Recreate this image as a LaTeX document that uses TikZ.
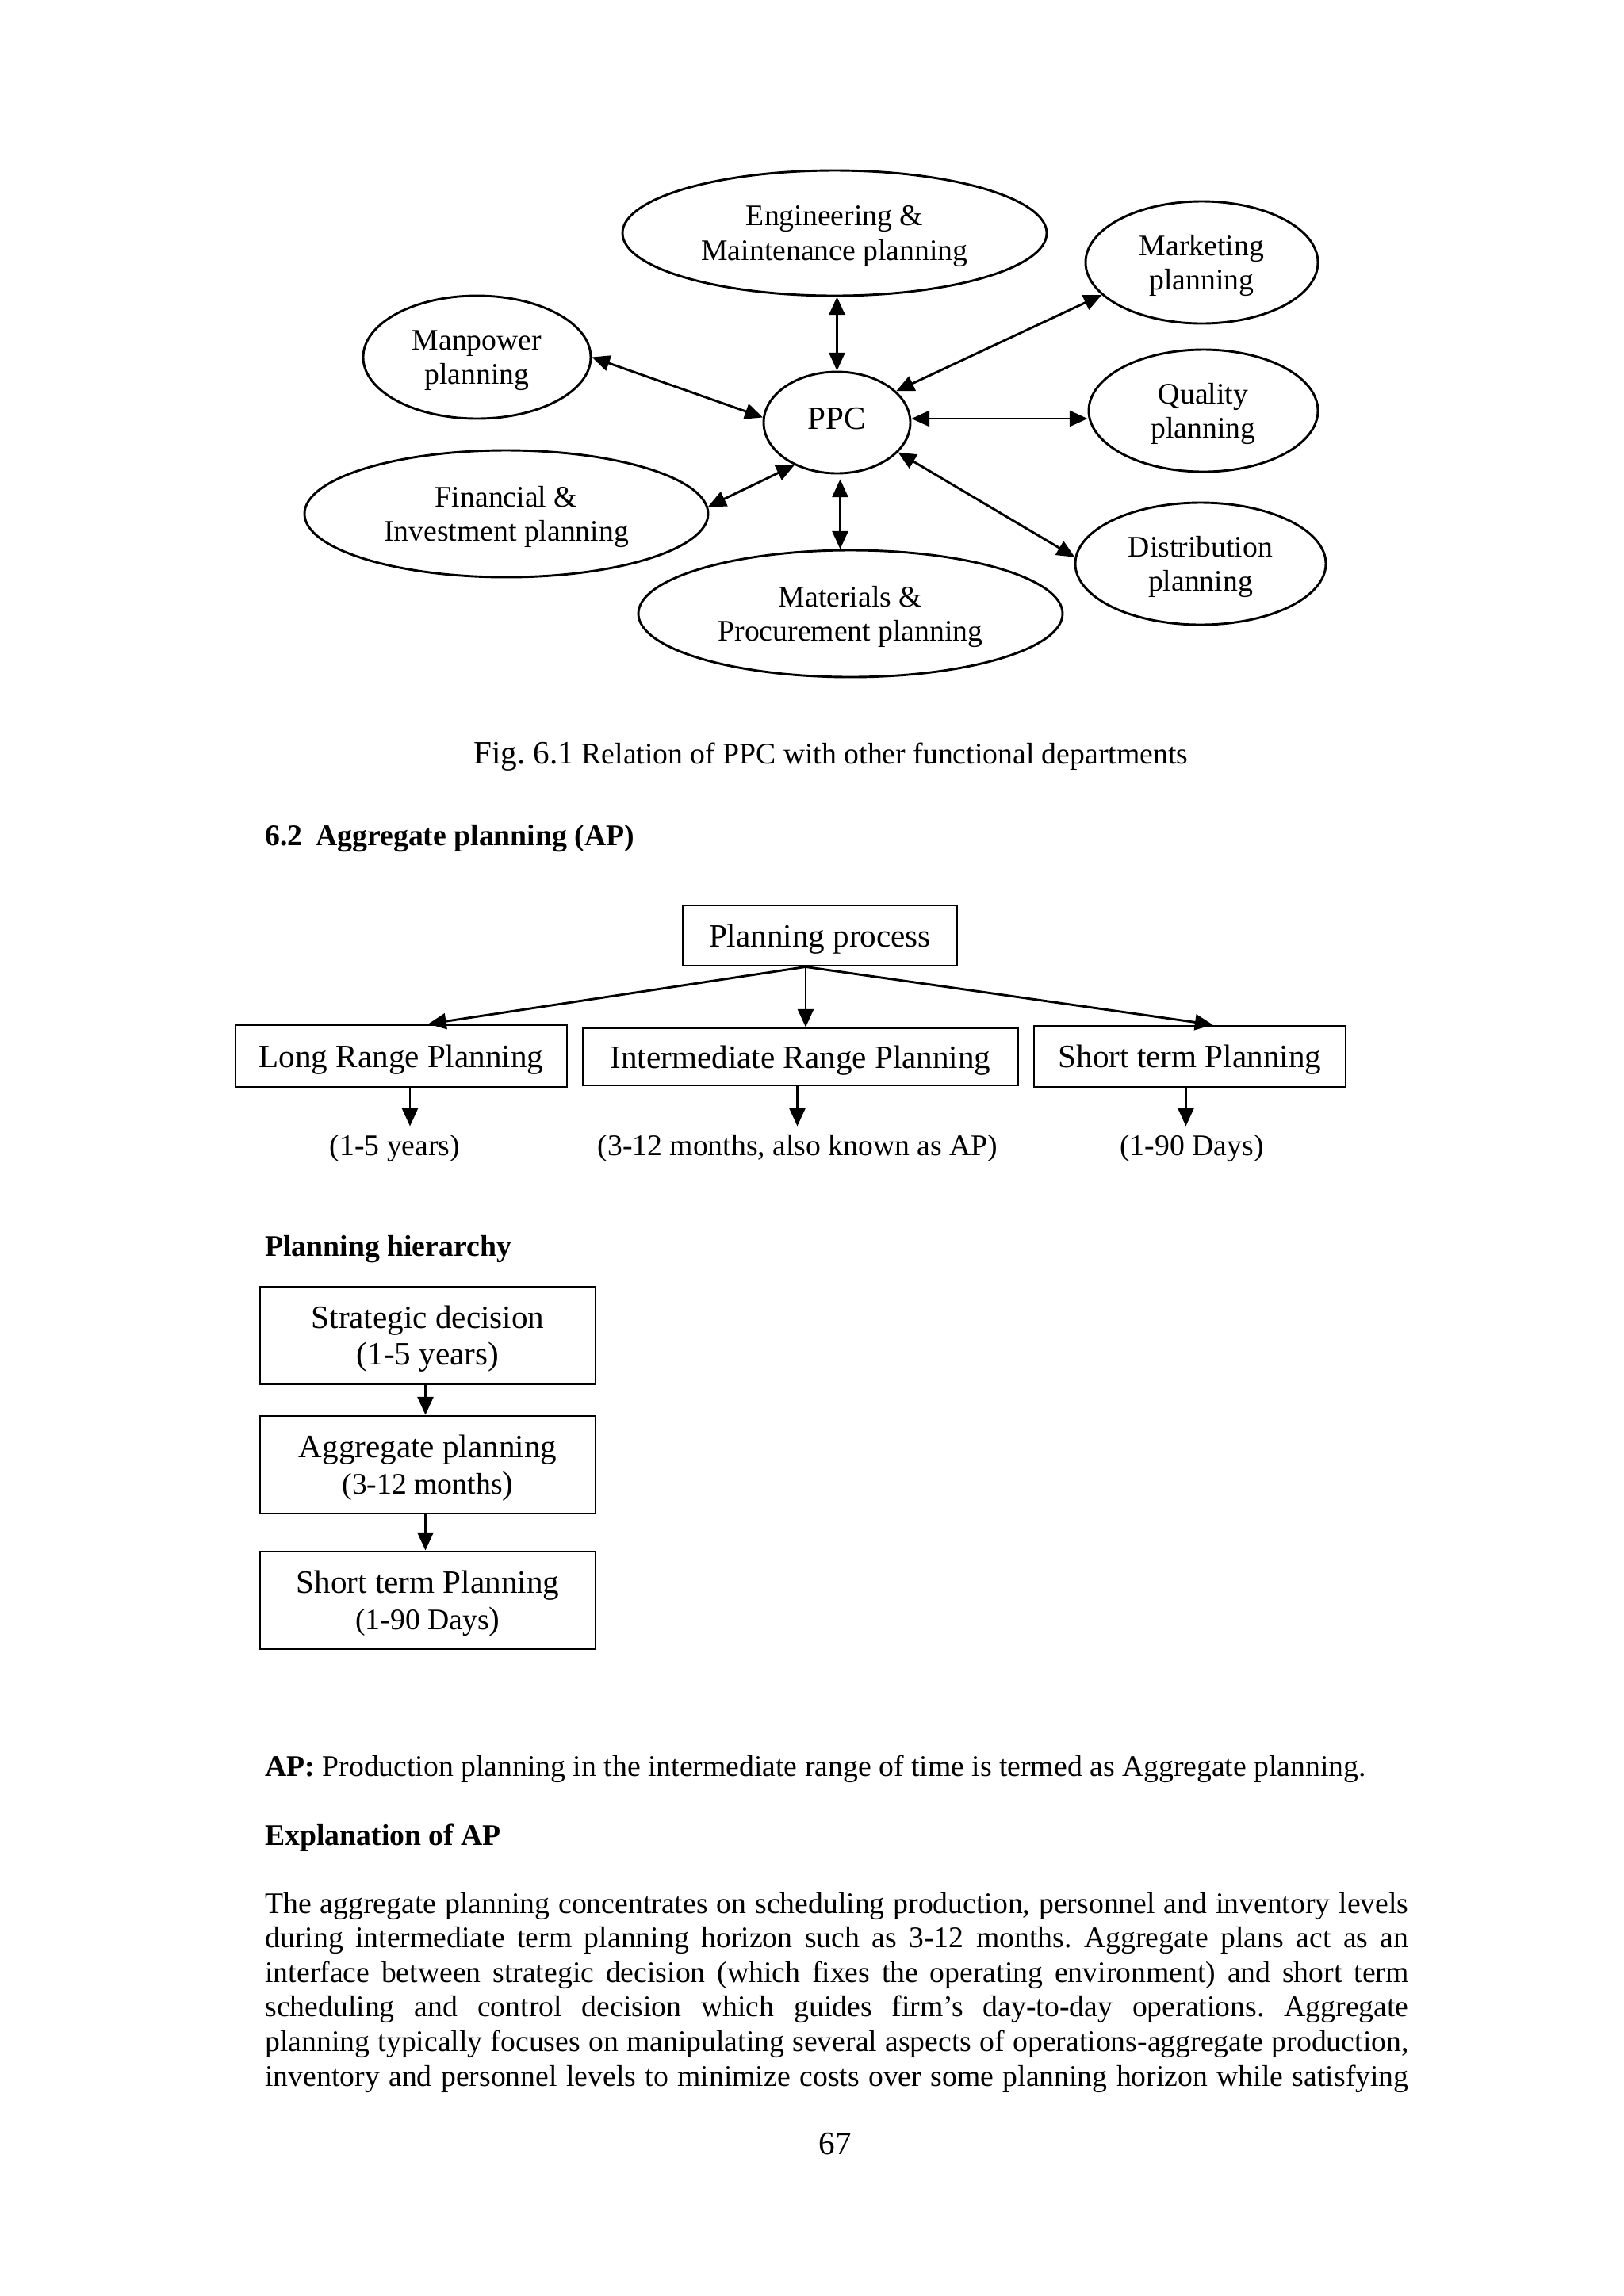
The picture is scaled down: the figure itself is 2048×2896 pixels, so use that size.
\documentclass[tikz,border=0pt]{standalone}
\usepackage{fontspec}
\setmainfont{Liberation Serif}
\usetikzlibrary{shapes.geometric,arrows.meta,calc}
\newcommand{\pxu}{0.10254mm}
\newlength\parw
\setlength\parw{147.86mm}
\newcommand{\elevenpt}{\fontsize{11}{12.65}\selectfont}
\newcommand{\twelvept}{\fontsize{12}{13.4}\selectfont}
\frenchspacing
\begin{document}
\begin{tikzpicture}[x=0.10254mm,y=-0.10254mm,
  line width=0.85pt,
  ell/.style={draw, ellipse, inner sep=0pt, align=center, text depth=0pt, font=\elevenpt},
  bx/.style={draw, rectangle, inner sep=0pt, align=center, text depth=0pt, font=\twelvept},
  arr/.style={-{Triangle[length=6.6pt,width=5.8pt]}},
  darr/.style={{Triangle[length=6.6pt,width=5.8pt]}-{Triangle[length=6.6pt,width=5.8pt]}},
  txt/.style={inner sep=0pt, anchor=base west, font=\elevenpt},
  lab/.style={inner sep=2.6pt, anchor=base, font=\elevenpt},
]
\useasboundingbox (0,0) rectangle (2048,2896);
\fill[white] (0,0) rectangle (2048,2896);

% ---------- Fig 6.1 ----------
\node[ell, minimum width={535*\pxu}, minimum height={158*\pxu}] (eng) at (1052.5,294) {Engineering \&\\Maintenance planning};
\node[ell, minimum width={293*\pxu}, minimum height={154*\pxu}] (mkt) at (1515.5,331) {Marketing\\planning};
\node[ell, minimum width={287*\pxu}, minimum height={155*\pxu}] (man) at (601.5,450.5) {Manpower\\planning};
\node[ell, minimum width={185*\pxu}, minimum height={128*\pxu}, text depth=2.9pt, font=\twelvept] (ppc) at (1055.5,533) {PPC};
\node[ell, minimum width={289*\pxu}, minimum height={154*\pxu}] (qual) at (1517.5,518) {Quality\\planning};
\node[ell, minimum width={509*\pxu}, minimum height={160*\pxu}] (fin) at (638.5,648) {Financial \&\\Investment planning};
\node[ell, minimum width={316*\pxu}, minimum height={154*\pxu}] (dist) at (1514,711) {Distribution\\planning};
\node[ell, minimum width={535*\pxu}, minimum height={160*\pxu}] (mat) at (1072.5,774) {Materials \&\\Procurement planning};

\coordinate (ppcS) at ($(ppc.south)+(4,6)$);
\coordinate (ppcE) at ($(ppc.east)+(0,-5)$);
\draw[darr] (ppc.north) -- (ppc.north |- eng.south);
\draw[darr] (ppcS) -- (ppcS |- mat.north);
\draw[darr] (ppcE) -- (ppcE -| qual.west);
\draw[darr] (man.east) -- (ppc.176);
\draw[darr] (mkt.198) -- (ppc.28);
\draw[darr] (dist.177) -- (ppc.-26);
\draw[darr] (fin.2) -- (ppc.225);

\node[txt] (cap) at (596,963) {{\twelvept Fig. 6.1} Relation of PPC with other functional departments};

% ---------- 6.2 ----------
\node[txt] (h62) at (333,1066) {\textbf{6.2\hspace{0.2em} Aggregate planning (AP)}};

\node[bx, minimum width={346*\pxu}, minimum height={76*\pxu}] (pp) at (1034,1180) {Planning process};
\node[bx, minimum width={418*\pxu}, minimum height={78*\pxu}] (lr) at (506,1332) {Long Range Planning};
\node[bx, minimum width={549*\pxu}, minimum height={72*\pxu}] (ir) at (1009.5,1333) {Intermediate Range Planning};
\node[bx, minimum width={393*\pxu}, minimum height={77*\pxu}] (sr) at (1500.5,1332.5) {Short term Planning};

\coordinate (ppo) at ($(pp.south)+(-18,0)$);
\coordinate (lrT) at ($(lr.north)+(34,0)$);
\coordinate (srT) at ($(sr.north)+(29,0)$);
\draw[arr] (ppo) -- (lrT);
\draw[arr] (ppo) -- (ppo |- ir.north);
\draw[arr] (ppo) -- (srT);

\node[lab] (l1) at (498,1457) {(1-5 years)};
\node[lab] (l2) at (1006,1457) {(3-12 months, also known as AP)};
\node[lab] (l3) at (1503,1457) {(1-90 Days)};
\coordinate (lrB) at ($(lr.south)+(11,0)$);
\coordinate (irB) at ($(ir.south)+(-4,0)$);
\coordinate (srB) at ($(sr.south)+(-5,0)$);
\draw[arr] (lrB) -- (lrB |- l1.north);
\draw[arr] (irB) -- (irB |- l2.north);
\draw[arr] (srB) -- (srB |- l3.north);

% ---------- Planning hierarchy ----------
\node[txt] (hph) at (333,1584) {\textbf{Planning hierarchy}};
\node[bx, minimum width={423*\pxu}, minimum height={123*\pxu}] (h1) at (539.5,1684.5) {Strategic decision\\(1-5 years)};
\node[bx, minimum width={423*\pxu}, minimum height={123*\pxu}] (h2) at (539.5,1847.5) {Aggregate planning\\{\elevenpt(3-12 months}{)}};
\node[bx, minimum width={423*\pxu}, minimum height={123*\pxu}] (h3) at (539.5,2018.5) {Short term Planning\\{\elevenpt(1-90 Days}{)}};
\coordinate (h1B) at ($(h1.south)+(-3,0)$);
\coordinate (h2B) at ($(h2.south)+(-3,0)$);
\draw[arr] (h1B) -- (h1B |- h2.north);
\draw[arr] (h2B) -- (h2B |- h3.north);

% ---------- Text ----------
\node[txt] (apdef) at (333,2240) {\textbf{AP:} Production planning in the intermediate range of time is termed as Aggregate planning.};
\node[txt] (expl) at (333,2327) {\textbf{Explanation of AP}};
\node[txt] (p1) at (333,2413) {\makebox[\parw][s]{The aggregate planning concentrates on scheduling production, personnel and inventory levels}};
\node[txt] (p2) at (333,2456.6) {\makebox[\parw][s]{during intermediate term planning horizon such as 3-12 months. Aggregate plans act as an}};
\node[txt] (p3) at (333,2500.2) {\makebox[\parw][s]{interface between strategic decision (which fixes the operating environment) and short term}};
\node[txt] (p4) at (333,2543.8) {\makebox[\parw][s]{scheduling and control decision which guides firm’s day-to-day operations. Aggregate}};
\node[txt] (p5) at (333,2587.4) {\makebox[\parw][s]{planning typically focuses on manipulating several aspects of operations-aggregate production,}};
\node[txt] (p6) at (333,2631) {\makebox[\parw][s]{inventory and personnel levels to minimize costs over some planning horizon while satisfying}};
\node[txt, anchor=base, font=\twelvept] (pg) at (1053,2717) {67};
\end{tikzpicture}
\end{document}
